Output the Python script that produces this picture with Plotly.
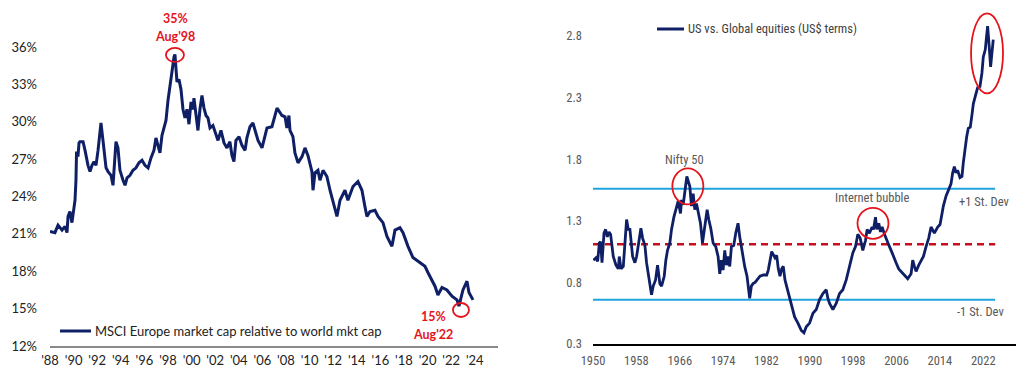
import plotly.graph_objects as go

# the page body has an 8px default margin; place everything relative to the window
OFF = 8
W, H = 1024 - OFF, 376 - OFF

# ---------------- Left chart data: MSCI Europe share of world market cap (%) -------------
europe_year = [
    1988.00, 1988.42, 1988.68, 1989.02, 1989.27, 1989.44, 1989.53, 1989.69, 1989.86, 1989.95,
    1990.12, 1990.20, 1990.25, 1990.37, 1990.46, 1990.54, 1990.80, 1990.97, 1991.22, 1991.39,
    1991.56, 1991.73, 1991.90, 1992.07, 1992.24, 1992.32, 1992.49, 1992.75, 1992.92, 1993.17,
    1993.34, 1993.59, 1993.76, 1993.93, 1994.19, 1994.36, 1994.53, 1994.78, 1995.03, 1995.29,
    1995.54, 1995.80, 1996.05, 1996.31, 1996.56, 1996.81, 1996.98, 1997.15, 1997.32, 1997.49,
    1997.66, 1997.83, 1998.00, 1998.17, 1998.34, 1998.51, 1998.59, 1998.76, 1998.93, 1999.10,
    1999.27, 1999.44, 1999.61, 1999.78, 1999.95, 2000.12, 2000.20, 2000.37, 2000.54, 2000.71,
    2000.88, 2001.05, 2001.22, 2001.39, 2001.56, 2001.81, 2002.07, 2002.24, 2002.49, 2002.75,
    2003.00, 2003.25, 2003.42, 2003.59, 2003.76, 2004.02, 2004.27, 2004.53, 2004.69, 2004.95,
    2005.20, 2005.63, 2005.97, 2006.39, 2006.81, 2007.24, 2007.66, 2007.92, 2008.08, 2008.25,
    2008.34, 2008.59, 2008.76, 2009.02, 2009.36, 2009.61, 2009.86, 2010.20, 2010.29, 2010.46,
    2010.71, 2010.88, 2011.14, 2011.47, 2011.73, 2011.98, 2012.32, 2012.58, 2013.00, 2013.25,
    2013.68, 2014.10, 2014.44, 2014.69, 2014.86, 2015.12, 2015.54, 2015.80, 2016.22, 2016.56,
    2016.98, 2017.24, 2017.66, 2017.92, 2018.34, 2018.76, 2019.19, 2019.78, 2020.03, 2020.37,
    2020.63, 2020.88, 2021.22, 2021.64, 2022.07, 2022.49, 2022.66, 2023.00, 2023.34, 2023.51,
    2023.85,
]
europe_pct = [
    21.2, 21.1, 21.7, 21.3, 21.6, 21.1, 22.4, 22.8, 21.9, 22.7,
    23.7, 25.3, 27.6, 27.2, 28.3, 28.4, 28.4, 27.7, 26.5, 26.0,
    26.5, 26.8, 26.5, 27.7, 28.9, 29.9, 28.5, 26.3, 26.0, 25.7,
    24.9, 28.4, 27.9, 26.1, 25.3, 24.9, 25.5, 25.7, 26.1, 26.3,
    26.7, 26.9, 26.5, 26.3, 27.1, 27.7, 28.7, 28.1, 27.5, 28.9,
    29.5, 30.1, 31.7, 32.9, 34.2, 35.2, 35.4, 33.2, 33.4, 32.6,
    31.0, 30.3, 31.0, 29.8, 31.6, 31.0, 31.9, 30.5, 29.3, 31.0,
    32.1, 31.1, 30.5, 30.3, 29.5, 29.7, 29.0, 28.5, 29.3, 28.3,
    27.9, 28.4, 27.3, 26.8, 28.5, 28.8, 28.1, 27.7, 28.7, 29.6,
    29.9, 28.5, 27.9, 29.5, 29.6, 31.1, 30.5, 30.4, 29.5, 30.5,
    29.3, 28.8, 27.5, 26.7, 27.2, 27.9, 27.3, 26.0, 24.5, 25.9,
    26.1, 25.3, 26.1, 25.6, 24.5, 23.7, 22.4, 23.7, 24.5, 23.7,
    24.8, 25.2, 24.5, 23.2, 22.4, 22.8, 22.9, 22.4, 21.9, 20.8,
    20.0, 21.3, 21.5, 21.1, 20.0, 19.1, 18.8, 18.4, 17.9, 17.3,
    16.8, 16.1, 16.7, 16.5, 16.0, 15.7, 15.2, 16.5, 17.2, 16.3,
    15.7,
]
left_tick_years = list(range(1988, 2025, 2))
left_tick_text = ["'" + str(y)[2:] for y in left_tick_years]
left_y_ticks = [12, 15, 18, 21, 24, 27, 30, 33, 36]
left_y_text = [f"{v}%" for v in left_y_ticks]

# ---------------- Right chart data: US vs Global equities (US$ terms) ----------------------
us_year = [
    1950.06, 1950.55, 1950.86, 1951.17, 1951.41, 1951.66, 1952.03, 1952.33, 1952.64, 1952.95,
    1953.25, 1953.50, 1953.74, 1954.24, 1954.67, 1954.85, 1955.16, 1955.59, 1955.89, 1956.20,
    1956.51, 1956.81, 1957.31, 1957.73, 1958.04, 1958.53, 1958.84, 1959.15, 1959.58, 1959.88,
    1960.19, 1960.50, 1960.80, 1961.11, 1961.54, 1961.91, 1962.34, 1962.65, 1963.14, 1963.44,
    1963.75, 1964.18, 1964.49, 1964.92, 1965.41, 1965.71, 1966.15, 1966.33, 1966.64, 1966.94,
    1967.25, 1967.31, 1967.86, 1968.17, 1968.48, 1968.78, 1969.09, 1969.40, 1969.83, 1970.20,
    1970.44, 1970.81, 1971.06, 1971.36, 1971.73, 1972.16, 1972.65, 1973.08, 1973.39, 1973.70,
    1974.00, 1974.31, 1974.62, 1974.92, 1975.23, 1975.54, 1975.97, 1976.34, 1976.76, 1977.07,
    1977.50, 1977.99, 1978.42, 1978.79, 1978.91, 1979.22, 1979.53, 1979.90, 1980.20, 1980.81,
    1981.42, 1982.05, 1982.34, 1982.66, 1982.97, 1983.58, 1983.89, 1984.19, 1984.50, 1984.81,
    1985.11, 1985.42, 1985.73, 1986.03, 1986.35, 1986.66, 1987.20, 1987.81, 1988.43, 1988.92,
    1989.35, 1989.96, 1990.58, 1991.19, 1991.80, 1992.42, 1993.03, 1993.34, 1993.65, 1994.26,
    1994.87, 1995.49, 1996.10, 1996.72, 1997.33, 1997.94, 1998.43, 1998.86, 1999.29, 1999.78,
    2000.28, 2000.58, 2001.01, 2001.50, 2001.75, 2002.12, 2002.36, 2002.73, 2003.04, 2003.35,
    2003.78, 2004.20, 2004.70, 2005.19, 2005.62, 2005.92, 2006.41, 2006.85, 2007.46, 2008.07,
    2008.69, 2008.99, 2009.30, 2009.61, 2010.10, 2010.53, 2010.96, 2011.45, 2011.94, 2012.37,
    2012.68, 2012.98, 2013.60, 2014.03, 2014.40, 2014.64, 2015.13, 2015.62, 2016.05, 2016.36,
    2016.67, 2016.97, 2017.28, 2017.71, 2018.08, 2018.32, 2018.69, 2018.94, 2019.24, 2019.61,
    2019.92, 2020.17, 2020.53, 2020.96, 2021.39, 2021.76, 2022.01, 2022.38, 2022.62, 2022.81,
    2023.11, 2023.36, 2023.60, 2023.85,
]
us_ratio = [
    0.98, 1.00, 0.97, 1.12, 1.13, 0.96, 1.20, 1.23, 1.17, 1.21,
    1.19, 1.09, 1.01, 0.94, 0.91, 1.01, 0.91, 0.93, 1.09, 1.31,
    1.23, 1.23, 1.01, 0.96, 1.01, 1.14, 1.24, 1.16, 1.10, 0.96,
    0.87, 0.77, 0.70, 0.77, 0.82, 0.94, 0.79, 0.77, 0.85, 0.98,
    1.06, 1.12, 1.23, 1.33, 1.42, 1.46, 1.36, 1.47, 1.43, 1.52,
    1.63, 1.66, 1.58, 1.42, 1.52, 1.39, 1.44, 1.36, 1.28, 1.12,
    1.20, 1.33, 1.39, 1.31, 1.24, 1.12, 1.09, 1.01, 0.87, 0.98,
    0.90, 1.06, 0.94, 1.01, 0.93, 1.09, 1.10, 1.20, 1.28, 1.17,
    1.04, 0.93, 0.85, 0.74, 0.67, 0.77, 0.79, 0.80, 0.82, 0.85,
    0.86, 0.86, 0.90, 0.98, 1.05, 1.00, 1.02, 0.91, 0.85, 0.91,
    0.93, 0.82, 0.77, 0.72, 0.66, 0.60, 0.52, 0.47, 0.41, 0.39,
    0.44, 0.47, 0.55, 0.58, 0.66, 0.71, 0.74, 0.67, 0.63, 0.58,
    0.63, 0.71, 0.74, 0.82, 0.93, 1.04, 1.09, 1.19, 1.16, 1.06,
    1.14, 1.23, 1.20, 1.25, 1.23, 1.33, 1.23, 1.28, 1.21, 1.25,
    1.19, 1.14, 1.09, 1.04, 1.00, 0.96, 0.91, 0.89, 0.86, 0.83,
    0.87, 0.98, 0.93, 0.89, 0.94, 0.98, 1.01, 1.09, 1.16, 1.25,
    1.23, 1.20, 1.25, 1.27, 1.36, 1.42, 1.50, 1.55, 1.60, 1.69,
    1.74, 1.69, 1.71, 1.65, 1.66, 1.77, 1.93, 1.98, 2.05, 2.06,
    2.16, 2.25, 2.31, 2.38, 2.39, 2.50, 2.63, 2.69, 2.80, 2.88,
    2.71, 2.55, 2.66, 2.77,
]
us_mean = 1.11
us_plus_sd = 1.56
us_minus_sd = 0.66
stat_start, stat_end = 1950.0, 2024.2
right_tick_years = list(range(1950, 2023, 8))
right_y_ticks = [0.3, 0.8, 1.3, 1.8, 2.3, 2.8]

# ---------------- styling / layout helpers ----------------
NAVY = "#0f1f66"
RED = "#e3141c"
CYAN = "#1fa3df"
DRED = "#c4101e"
GREY = "#595959"
LFONT = "Lato, 'Open Sans', sans-serif"
RFONT = "'Liberation Sans Narrow', 'Roboto Condensed', Roboto, sans-serif"


def px(x):
    return (x - OFF) / W


def py(y):
    return 1 - (y - OFF) / H


fig = go.Figure()

fig.add_trace(go.Scatter(
    x=europe_year, y=europe_pct, mode="lines",
    line=dict(color=NAVY, width=3), xaxis="x", yaxis="y", showlegend=False,
    hoverinfo="skip",
))
fig.add_trace(go.Scatter(
    x=us_year, y=us_ratio, mode="lines",
    line=dict(color=NAVY, width=2.8), xaxis="x2", yaxis="y2", showlegend=False,
    hoverinfo="skip",
))

shapes = []
for val, col, dash, wd in [(us_plus_sd, CYAN, "solid", 2), (us_minus_sd, CYAN, "solid", 2),
                           (us_mean, DRED, "7px,5px", 2.5)]:
    shapes.append(dict(type="line", xref="x2", yref="y2", x0=stat_start, x1=stat_end,
                       y0=val, y1=val, line=dict(color=col, width=wd, dash=dash), layer="below"))


def ellipse(xr, yr, xa, ya, rx, ry):
    return dict(type="circle", xref=xr, yref=yr, xsizemode="pixel", ysizemode="pixel",
                xanchor=xa, yanchor=ya, x0=-rx, x1=rx, y0=-ry, y1=ry,
                line=dict(color=RED, width=1.8))


shapes += [
    ellipse("x", "y", 1998.59, 35.36, 9, 7),
    ellipse("x", "y", 2022.83, 14.89, 8, 7),
    ellipse("x2", "y2", 1967.5, 1.58, 15.5, 18),
    ellipse("x2", "y2", 2001.66, 1.28, 15.5, 15.5),
    ellipse("x2", "y2", 2022.7, 2.66, 16, 40),
]

shapes.append(dict(type="line", xref="paper", yref="paper", x0=px(60), x1=px(91),
                   y0=py(331), y1=py(331), line=dict(color=NAVY, width=3)))
shapes.append(dict(type="line", xref="paper", yref="paper", x0=px(657), x1=px(684),
                   y0=py(29), y1=py(29), line=dict(color=NAVY, width=3)))

ann = []


def text(x, y, s, color, size, font, xanchor="center", bold=False):
    ann.append(dict(x=px(x), y=py(y), xref="paper", yref="paper",
                    text=(f"<b>{s}</b>" if bold else s),
                    showarrow=False, xanchor=xanchor, yanchor="middle",
                    font=dict(color=color, size=size, family=font)))


text(93, 331, "MSCI Europe market cap relative to world mkt cap", "#222222", 13, LFONT, "left")
text(686, 29, "US vs. Global equities (US$ terms)", "#404040", 12.5, RFONT, "left")
text(175, 18, "35%", RED, 12.5, LFONT, bold=True)
text(175, 36, "Aug'98", RED, 12.5, LFONT, bold=True)
text(433, 316, "15%", RED, 12.5, LFONT, bold=True)
text(433, 334, "Aug'22", RED, 12.5, LFONT, bold=True)
text(684, 159, "Nifty 50", GREY, 12.5, RFONT)
text(872, 197, "Internet bubble", GREY, 12.5, RFONT)
text(957, 201, "+1 St. Dev", GREY, 12.5, RFONT, "left")
text(955, 311, "-1 St. Dev", GREY, 12.5, RFONT, "left")

fig.update_layout(
    width=W, height=H, margin=dict(l=0, r=0, t=0, b=0, autoexpand=False),
    paper_bgcolor="white", plot_bgcolor="white",
    shapes=shapes, annotations=ann, showlegend=False,
    xaxis=dict(domain=[px(50), px(498)], range=[1988, 2025.97], tickvals=left_tick_years,
               ticktext=left_tick_text, showgrid=False, zeroline=False, showline=True,
               linecolor="#8a8a8a", linewidth=1.5, ticks="", ticklabelstandoff=2,
               automargin=False,
               tickfont=dict(family=LFONT, size=13, color="#222222"), anchor="y"),
    yaxis=dict(domain=[py(346), py(9.6)], range=[12, 39], tickvals=left_y_ticks,
               ticktext=left_y_text, showgrid=False, zeroline=False, showline=False,
               ticks="", ticklabelstandoff=12, automargin=False,
               tickfont=dict(family=LFONT, size=13, color="#222222"), anchor="x"),
    xaxis2=dict(domain=[px(593), px(1017)], range=[1950, 2028.23],
                tickvals=right_tick_years,
                showgrid=False, zeroline=False, showline=True, linecolor="#000000", linewidth=2,
                ticks="", ticklabelstandoff=4, automargin=False,
                tickfont=dict(family=RFONT, size=12.5, color=GREY), anchor="y2"),
    yaxis2=dict(domain=[py(344), py(11.4)], range=[0.3, 3.0], tickvals=right_y_ticks,
                tickformat=".1f", showgrid=False, zeroline=False, showline=False,
                ticks="", ticklabelstandoff=10, automargin=False,
                tickfont=dict(family=RFONT, size=12.5, color=GREY), anchor="x2"),
)

fig.write_html("out.html")
